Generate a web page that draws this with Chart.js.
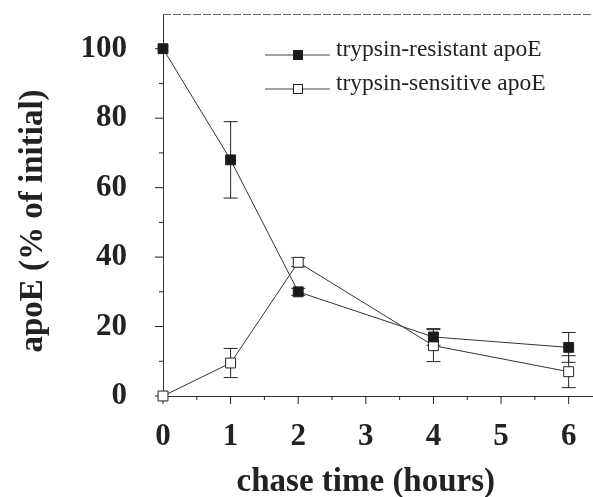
<!DOCTYPE html>
<html lang="en">
<head>
  <meta charset="UTF-8" />
  <title>apoE chase</title>
  <script src="https://cdn.jsdelivr.net/npm/chart.js"></script>
  <style>
    html, body { margin: 0; background: #fff; overflow: hidden; }
    #wrap { width: 593px; height: 497px; }
    canvas { display: block; }
  </style>
</head>
<body>
  <div id="wrap"><canvas id="chase" width="593" height="497"></canvas></div>
  <script>
    // chase time points (hours)
    const hours = [0, 1, 2, 4, 6];
    // trypsin-resistant apoE, % of initial, with error
    const resistant = [100, 68, 30, 17, 14];
    const resistantErr = [0, 11, 1, 2.4, 4.3];
    // trypsin-sensitive apoE, % of initial, with error
    const sensitive = [0, 9.5, 38.5, 14.5, 7];
    const sensitiveErr = [0, 4.2, 1.3, 4.6, 4.6];

    const seriesNames = ['trypsin-resistant apoE', 'trypsin-sensitive apoE'];
    const xTitle = 'chase time (hours)';
    const yTitle = 'apoE (% of initial)';
    const yMajor = [0, 20, 40, 60, 80, 100];
    const yMinor = [10, 30, 50, 70, 90];
    const xMajor = [0, 1, 2, 3, 4, 5, 6];
    const xMinor = [0.5, 1.5, 2.5, 3.5, 4.5, 5.5];

    const INK = '#222';
    const SERIF = '"Liberation Serif", "DejaVu Serif", serif';

    function pts(ys, errs) {
      return hours.map((h, i) => ({ x: h, y: ys[i], err: errs[i] }));
    }

    // error bars, ticks, top frame, axis titles and legend
    const decorations = {
      id: 'decorations',
      beforeDatasetsDraw(chart) {
        const ctx = chart.ctx;
        const xs = chart.scales.x, ys = chart.scales.y;
        const area = chart.chartArea;
        ctx.save();
        ctx.strokeStyle = INK;
        ctx.lineWidth = 1;

        // error bars
        chart.data.datasets.forEach(ds => {
          ds.data.forEach(p => {
            if (!p.err) return;
            const px = xs.getPixelForValue(p.x);
            const top = ys.getPixelForValue(p.y + p.err);
            const bot = ys.getPixelForValue(p.y - p.err);
            ctx.beginPath();
            ctx.moveTo(px, top); ctx.lineTo(px, bot);
            ctx.moveTo(px - 7, top); ctx.lineTo(px + 7, top);
            ctx.moveTo(px - 7, bot); ctx.lineTo(px + 7, bot);
            ctx.stroke();
          });
        });

        // tick marks outside the axes
        ctx.beginPath();
        yMajor.forEach(v => { const py = ys.getPixelForValue(v); ctx.moveTo(area.left - 8, py); ctx.lineTo(area.left, py); });
        yMinor.forEach(v => { const py = ys.getPixelForValue(v); ctx.moveTo(area.left - 4, py); ctx.lineTo(area.left, py); });
        xMajor.forEach(v => { const px = xs.getPixelForValue(v); ctx.moveTo(px, area.bottom); ctx.lineTo(px, area.bottom + 8); });
        xMinor.forEach(v => { const px = xs.getPixelForValue(v); ctx.moveTo(px, area.bottom); ctx.lineTo(px, area.bottom + 4); });
        ctx.stroke();

        // faint dashed top frame
        ctx.strokeStyle = '#666';
        ctx.setLineDash([8, 2]);
        ctx.beginPath();
        ctx.moveTo(area.left, area.top + 0.5);
        ctx.lineTo(area.right, area.top + 0.5);
        ctx.stroke();
        ctx.restore();
      },
      afterDraw(chart) {
        const ctx = chart.ctx;
        const xs = chart.scales.x;
        ctx.save();

        // axis titles
        ctx.fillStyle = INK;
        ctx.font = 'bold 33px ' + SERIF;
        ctx.textAlign = 'center';
        ctx.textBaseline = 'middle';
        ctx.fillText(xTitle, (xs.getPixelForValue(0) + xs.getPixelForValue(6)) / 2, 482);
        ctx.save();
        ctx.translate(33, 221);
        ctx.rotate(-Math.PI / 2);
        ctx.fillText(yTitle, 0, 0);
        ctx.restore();

        // legend
        chart.data.datasets.forEach((ds, i) => {
          const y = 55 + i * 34;
          ctx.strokeStyle = '#444';
          ctx.lineWidth = 1;
          ctx.beginPath();
          ctx.moveTo(265, y); ctx.lineTo(330, y);
          ctx.stroke();
          ctx.fillStyle = ds.pointBackgroundColor;
          ctx.strokeStyle = INK;
          ctx.fillRect(293, y - 5, 10, 10);
          ctx.strokeRect(293.5, y - 4.5, 9, 9);
          ctx.fillStyle = INK;
          ctx.font = '23.5px ' + SERIF;
          ctx.textBaseline = 'alphabetic';
          ctx.textAlign = 'left';
          ctx.fillText(seriesNames[i], 336, y + 1);
        });
        ctx.restore();
      }
    };

    const fixedY = { afterFit(s) { s.width = 163; s.paddingTop = 0; s.paddingBottom = 0; } };
    const fixedX = { afterFit(s) { s.height = 101; s.paddingLeft = 0; s.paddingRight = 0; } };

    new Chart(document.getElementById('chase'), {
      type: 'line',
      data: {
        datasets: [
          {
            label: seriesNames[0],
            data: pts(resistant, resistantErr),
            borderColor: '#333',
            borderWidth: 1,
            pointStyle: 'rect',
            pointRadius: 7,
            pointBackgroundColor: '#1a1a1a',
            pointBorderColor: INK,
            pointBorderWidth: 1,
            tension: 0
          },
          {
            label: seriesNames[1],
            data: pts(sensitive, sensitiveErr),
            borderColor: '#333',
            borderWidth: 1,
            pointStyle: 'rect',
            pointRadius: 7,
            pointBackgroundColor: '#fff',
            pointBorderColor: INK,
            pointBorderWidth: 1,
            tension: 0
          }
        ]
      },
      options: {
        responsive: false,
        animation: false,
        clip: false,
        layout: { autoPadding: false, padding: { top: 14, right: 0, left: 0, bottom: 0 } },
        plugins: { legend: { display: false }, tooltip: { enabled: false } },
        scales: {
          x: {
            type: 'linear',
            min: 0,
            max: 6.36,
            ...fixedX,
            grid: { display: false, drawTicks: false },
            border: { display: true, color: '#333', width: 1 },
            ticks: {
              stepSize: 1,
              includeBounds: false,
              padding: 22,
              color: INK,
              font: { family: SERIF, size: 31, weight: 'bold' }
            }
          },
          y: {
            min: 0,
            max: 110,
            ...fixedY,
            grid: { display: false, drawTicks: false },
            border: { display: true, color: '#333', width: 1 },
            ticks: {
              stepSize: 20,
              includeBounds: false,
              padding: 36,
              color: INK,
              font: { family: SERIF, size: 31, weight: 'bold' }
            }
          }
        }
      },
      plugins: [decorations]
    });
  </script>
</body>
</html>
